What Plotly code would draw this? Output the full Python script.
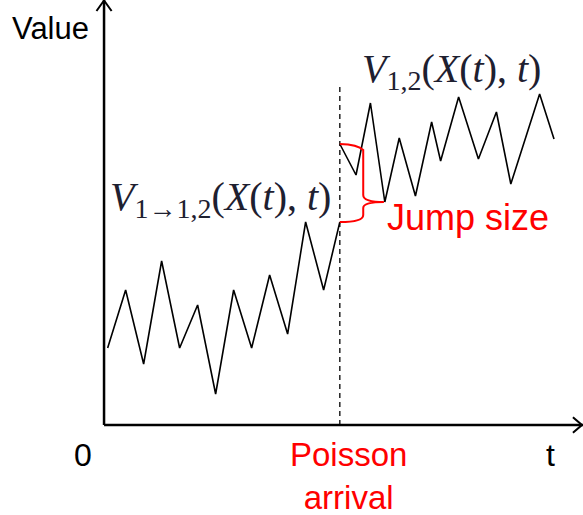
import plotly.graph_objects as go

# Sample path before the Poisson arrival (regime 1 -> {1,2})
t_pre = [0.2, 1.2, 2.2, 3.2, 4.2, 5.2, 6.2, 7.2, 8.2, 9.2, 10.2, 11.2, 12.2, 13.1]
v_pre = [7.7, 13.5, 6.1, 16.4, 7.7, 12.0, 3.1, 13.5, 7.7, 15.0, 9.1, 20.3, 13.5, 20.3]

# Sample path after the arrival (regime {1,2})
t_post = [13.1, 14.0, 14.8, 15.6, 16.4, 17.3, 18.2, 18.7, 19.7, 20.8, 21.8, 22.6, 24.2, 25.0]
v_post = [28.1, 25.0, 32.2, 22.3, 28.7, 22.9, 30.3, 26.4, 32.8, 26.6, 31.3, 24.1, 33.1, 28.6]

jump_time = 13.1
marker_top = 34.2          # top of the dashed arrival marker

# Visible window in (t, value) units
T_MIN, T_MAX = -5.78, 26.61
V_MIN, V_MAX = -9.0, 42.5

INK = "black"
RED = "#ff0000"
MATH = "#1e2030"

fig = go.Figure()

# Axes with open arrowheads
ax_w = 2.5
fig.add_trace(go.Scatter(x=[0, 0], y=[0, V_MAX], mode="lines",
                         line=dict(color=INK, width=ax_w), hoverinfo="skip"))
fig.add_trace(go.Scatter(x=[0, T_MAX], y=[0, 0], mode="lines",
                         line=dict(color=INK, width=ax_w), hoverinfo="skip"))
ah_t, ah_v = 0.42, 1.1
fig.add_trace(go.Scatter(x=[-ah_t, 0, ah_t], y=[V_MAX - ah_v, V_MAX - 0.05, V_MAX - ah_v],
                         mode="lines", line=dict(color=INK, width=2), hoverinfo="skip"))
ah_t2, ah_v2 = 0.56, 0.78
fig.add_trace(go.Scatter(x=[T_MAX - ah_t2, T_MAX - 0.06, T_MAX - ah_t2], y=[ah_v2, 0, -ah_v2],
                         mode="lines", line=dict(color=INK, width=2), hoverinfo="skip"))

# Dashed arrival marker
fig.add_trace(go.Scatter(x=[jump_time, jump_time], y=[0, marker_top], mode="lines",
                         line=dict(color=INK, width=1.3, dash="5px,4px"), hoverinfo="skip"))

# Value path
fig.add_trace(go.Scatter(x=t_pre, y=v_pre, mode="lines",
                         line=dict(color=INK, width=1.6), hoverinfo="skip"))
fig.add_trace(go.Scatter(x=t_post, y=v_post, mode="lines",
                         line=dict(color=INK, width=1.6), hoverinfo="skip"))

# Curly brace marking the jump size
lo, hi = v_pre[-1], v_post[0]
bx = jump_time + 1.3       # brace spine
tip_t = jump_time + 2.45   # brace tip
tip_v = 22.3
brace = (
    f"M {jump_time},{hi} "
    f"Q {bx - 0.3},{hi - 0.05} {bx},{hi - 0.6} "
    f"L {bx},{tip_v + 0.7} "
    f"Q {bx},{tip_v} {tip_t},{tip_v} "
    f"Q {bx},{tip_v} {bx},{tip_v - 0.6} "
    f"L {bx},{lo + 0.7} "
    f"Q {bx},{lo} {jump_time},{lo}"
)
fig.add_shape(type="path", path=brace, xref="x", yref="y",
              line=dict(color=RED, width=2))

sans = "Liberation Sans, Arial, sans-serif"
serif = "Liberation Serif, Times New Roman, serif"

def label(text, x, y, size, color, family, xanchor="center", yanchor="middle"):
    fig.add_annotation(text=text, x=x, y=y, xref="x", yref="y", showarrow=False,
                       font=dict(size=size, color=color, family=family),
                       xanchor=xanchor, yanchor=yanchor)

label("Value", -5.2, 39.7, 31, INK, sans, xanchor="left")
label("0", -1.15, -3.0, 32, INK, sans)
label("t", 24.8, -3.0, 32, INK, sans)
label("Poisson<br>arrival", jump_time + 0.5, -5.1, 33, RED, sans)
label("Jump size", 15.6, 20.8, 36, RED, sans, xanchor="left")

label("<i>V</i><sub>1,2</sub>(<i>X</i>(<i>t</i>), <i>t</i>)", 14.2, 35.4, 40, MATH, serif,
      xanchor="left")
label("<i>V</i><sub>1→1,2</sub>(<i>X</i>(<i>t</i>), <i>t</i>)", 0.2, 22.6, 40, MATH, serif,
      xanchor="left")

fig.update_layout(
    width=583, height=515,
    margin=dict(l=0, r=0, t=0, b=0),
    paper_bgcolor="white", plot_bgcolor="white",
    showlegend=False,
    xaxis=dict(range=[T_MIN, T_MAX], visible=False, fixedrange=True),
    yaxis=dict(range=[V_MIN, V_MAX], visible=False, fixedrange=True),
)

fig.write_html("out.html")
